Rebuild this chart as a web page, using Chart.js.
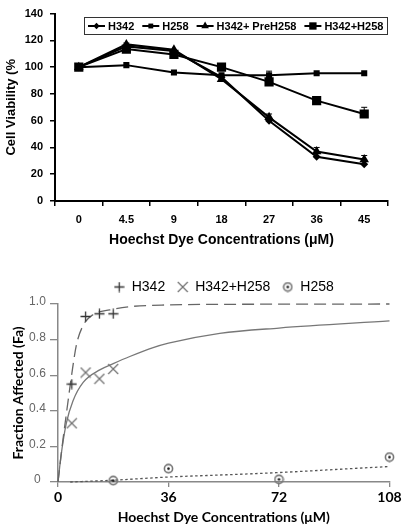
<!DOCTYPE html>
<html>
<head>
<meta charset="utf-8">
<script src="https://cdn.jsdelivr.net/npm/chart.js"></script>
<style>
  body { margin: 0; background: #fff; }
  canvas { display: block; }
</style>
</head>
<body>
<canvas id="viability" width="404" height="250"></canvas>
<canvas id="fraction" width="404" height="277"></canvas>
<script>
// ---- top chart: cell viability ----
const doseLabels = ['0', '4.5', '9', '18', '27', '36', '45']
const viaH342 = [100, 115.5, 112, 92.5, 60, 33, 27.5]
const viaH258 = [100, 101.5, 96, 94, 94, 95.5, 95.5]
const viaPreH258 = [100, 117, 113, 91, 62.5, 37, 31]
const viaH342H258 = [100, 113.5, 109.5, 100, 89, 75, 65]
const errH342 = [0, 0, 0, 0, 0, 0, 0]
const errH258 = [0, 0, 0, 0, 3, 0, 0]
const errPreH258 = [0, 1, 0, 0, 2.5, 3, 3]
const errH342H258 = [0, 0, 0, 0, 0, 0, 5]

// ---- bottom chart: fraction affected ----
const faDoseH342 = [4.5, 9, 13.5, 18]
const faH342 = [0.55, 0.93, 0.945, 0.945]
const faDoseCombo = [4.5, 9, 13.5, 18]
const faCombo = [0.33, 0.615, 0.58, 0.635]
const faDoseH258 = [18, 36, 72, 108]
const faH258 = [0.008, 0.075, 0.015, 0.14]
// fitted curves
const fitXH342 = [0, 1.6, 3.3, 4.4, 6, 8.2, 11.4, 16.9, 23.4, 36, 54, 72, 108]
const fitYH342 = [0, 0.235, 0.457, 0.596, 0.77, 0.88, 0.94, 0.967, 0.985, 0.995, 0.998, 0.999, 1.0]
const fitXCombo = [0, 1, 2.7, 4.9, 8.2, 13.6, 18, 23.4, 31, 36, 52.7, 72, 108]
const fitYCombo = [0, 0.15, 0.33, 0.457, 0.56, 0.63, 0.665, 0.705, 0.755, 0.78, 0.835, 0.865, 0.905]
const fitXH258 = [4, 18, 36, 54, 72, 90, 108]
const fitYH258 = [0, 0.01, 0.028, 0.04, 0.053, 0.07, 0.087]
const faTicks = [0, 36, 72, 108]

const ARIAL = '"Liberation Sans", Arial, sans-serif'
const LATO = 'Lato, "Open Sans", sans-serif'
Chart.defaults.font.family = ARIAL
Chart.defaults.color = '#000'

function legendMarker(ctx, style, x, y, r) {
    ctx.beginPath()
    if (style === 'rectRot') {
        ctx.moveTo(x - r, y); ctx.lineTo(x, y - r); ctx.lineTo(x + r, y); ctx.lineTo(x, y + r)
    } else if (style === 'triangle') {
        ctx.moveTo(x, y - r)
        ctx.lineTo(x + r * 0.866, y + r / 2)
        ctx.lineTo(x - r * 0.866, y + r / 2)
    } else {
        const s = r * Math.SQRT1_2
        ctx.rect(x - s, y - s, 2 * s, 2 * s)
    }
    ctx.closePath()
    ctx.fill()
}

const boxLegend = {
    id: 'boxLegend',
    afterDraw(chart) {
        const {ctx, chartArea} = chart
        ctx.save()
        ctx.font = 'bold 11px ' + ARIAL
        const sym = 17, gap = 3, sep = 8, pad = 4, boxH = 17
        const items = chart.data.datasets.map(ds => ({ds, w: ctx.measureText(ds.label).width}))
        const total = items.reduce((s, it) => s + sym + gap + it.w, 0) + sep * (items.length - 1) + pad * 2
        const left = Math.round(chartArea.right - 1 - total)
        const top = Math.round(chartArea.top + 3)
        ctx.strokeStyle = '#333'
        ctx.lineWidth = 1
        ctx.strokeRect(left + 0.5, top + 0.5, Math.round(total), boxH)
        const cy = top + boxH / 2 + 0.5
        let x = left + pad
        items.forEach(({ds, w}) => {
            ctx.strokeStyle = '#000'
            ctx.lineWidth = 2
            ctx.beginPath(); ctx.moveTo(x, cy); ctx.lineTo(x + sym, cy); ctx.stroke()
            ctx.fillStyle = '#000'
            legendMarker(ctx, ds.pointStyle, x + sym / 2, cy, ds.pointRadius * 0.8)
            ctx.textBaseline = 'middle'
            ctx.fillText(ds.label, x + sym + gap, cy + 0.5)
            x += sym + gap + w + sep
        })
        ctx.restore()
    }
}

const errorBars = {
    id: 'errorBars',
    afterDatasetsDraw(chart) {
        const {ctx} = chart
        const y = chart.scales.y
        ctx.save()
        ctx.strokeStyle = '#000'
        ctx.lineWidth = 1
        chart.data.datasets.forEach((ds, i) => {
            const pts = chart.getDatasetMeta(i).data
            ds.errors.forEach((e, j) => {
                if (!e) return
                const px = pts[j].x
                const top = y.getPixelForValue(ds.data[j] + e)
                ctx.beginPath()
                ctx.moveTo(px, pts[j].y); ctx.lineTo(px, top)
                ctx.moveTo(px - 3, top); ctx.lineTo(px + 3, top)
                ctx.stroke()
            })
        })
        ctx.restore()
    }
}

function lineSet(label, data, errors, style, radius) {
    return {
        label, data, errors,
        borderColor: '#000', backgroundColor: '#000', borderWidth: 2,
        pointStyle: style, pointRadius: radius, pointBorderWidth: 0,
        pointBackgroundColor: '#000', tension: 0
    }
}

new Chart(document.getElementById('viability'), {
    type: 'line',
    data: {
        labels: doseLabels,
        datasets: [
            lineSet('H342', viaH342, errH342, 'rectRot', 4),
            lineSet('H258', viaH258, errH258, 'rect', 4.3),
            lineSet('H342+ PreH258', viaPreH258, errPreH258, 'triangle', 5.5),
            lineSet('H342+H258', viaH342H258, errH342H258, 'rect', 6.5)
        ]
    },
    options: {
        responsive: false,
        animation: false,
        layout: {padding: {top: 7, right: 16, left: 0, bottom: 0}},
        plugins: {legend: {display: false}, tooltip: {enabled: false}},
        scales: {
            x: {
                offset: true,
                grid: {offset: true, drawOnChartArea: false, color: '#000', lineWidth: 1.5, tickLength: 5},
                border: {color: '#000', width: 2},
                ticks: {font: {size: 11, weight: 'bold'}, padding: 7},
                title: {display: true, text: 'Hoechst Dye Concentrations (μM)', font: {size: 14, weight: 'bold'}, padding: {top: 0, bottom: 1.5}},
                afterFit: s => { s.height = 49 }
            },
            y: {
                min: 0, max: 140,
                grid: {drawOnChartArea: false, color: '#000', lineWidth: 1.5, tickLength: 5},
                border: {color: '#000', width: 2},
                ticks: {stepSize: 20, font: {size: 11, weight: 'bold'}, padding: 7},
                title: {display: true, text: 'Cell Viability (%', font: {size: 13, weight: 'bold'}, padding: {top: 4, bottom: 0}},
                afterFit: s => { s.width = 55 }
            }
        }
    },
    plugins: [errorBars, boxLegend]
})

function markerImage(kind) {
    const c = document.createElement('canvas')
    const g = c.getContext('2d')
    if (kind === 'plus') {
        c.width = 11; c.height = 11
        g.strokeStyle = '#333'; g.lineWidth = 1.3
        g.beginPath(); g.moveTo(0.5, 5.5); g.lineTo(10.5, 5.5); g.moveTo(5.5, 0.5); g.lineTo(5.5, 10.5); g.stroke()
    } else if (kind === 'cross') {
        c.width = 12; c.height = 12
        g.strokeStyle = '#707070'; g.lineWidth = 1.2
        g.beginPath(); g.moveTo(1, 1); g.lineTo(11, 11); g.moveTo(11, 1); g.lineTo(1, 11); g.stroke()
    } else {
        c.width = 11; c.height = 11
        g.strokeStyle = '#777'; g.lineWidth = 1.6
        g.beginPath(); g.arc(5.5, 5.5, 4.1, 0, Math.PI * 2); g.stroke()
        g.fillStyle = '#111'
        g.beginPath(); g.arc(5.5, 5.5, 1.3, 0, Math.PI * 2); g.fill()
    }
    return c
}

const toXY = (xs, ys) => xs.map((x, i) => ({x, y: ys[i]}))

function pointSet(label, xs, ys, kind) {
    return {label, data: toXY(xs, ys), pointStyle: markerImage(kind), pointRadius: 5, clip: false}
}

function curveSet(label, xs, ys, color, dash) {
    return {
        label, data: toXY(xs, ys), showLine: true, pointRadius: 0,
        borderColor: color, borderWidth: 1.3, borderDash: dash,
        cubicInterpolationMode: 'monotone', clip: false
    }
}

new Chart(document.getElementById('fraction'), {
    type: 'scatter',
    data: {
        datasets: [
            pointSet('H342', faDoseH342, faH342, 'plus'),
            pointSet('H342+H258', faDoseCombo, faCombo, 'cross'),
            pointSet('H258', faDoseH258, faH258, 'ring'),
            curveSet('H342 fit', fitXH342, fitYH342, '#666', [12, 6]),
            curveSet('H342+H258 fit', fitXCombo, fitYCombo, '#777', []),
            curveSet('H258 fit', fitXH258, fitYH258, '#555', [2.5, 2.5])
        ]
    },
    options: {
        responsive: false,
        animation: false,
        layout: {padding: {top: 18, right: 14.5, left: 0, bottom: 0}},
        plugins: {
            tooltip: {enabled: false},
            legend: {
                position: 'top',
                fullSize: false,
                labels: {
                    filter: item => item.datasetIndex < 3,
                    usePointStyle: true, pointStyleWidth: 11, padding: 12,
                    font: {size: 14, family: ARIAL}, color: '#000'
                }
            }
        },
        scales: {
            x: {
                type: 'linear', min: 0, max: 108,
                afterBuildTicks: s => { s.ticks = faTicks.map(v => ({value: v})) },
                grid: {drawOnChartArea: false, color: '#888', lineWidth: 1.3, tickLength: 5},
                border: {color: '#888', width: 1.5},
                ticks: {font: {family: LATO, size: 14, weight: 'bold'}, padding: 2, color: '#000'},
                title: {display: true, text: 'Hoechst Dye Concentrations (μM)', font: {family: LATO, size: 14, weight: 'bold'}, padding: {top: 0, bottom: 1.6}},
                afterFit: s => { s.height = 45 }
            },
            y: {
                min: 0, max: 1,
                grid: {drawOnChartArea: false, color: '#888', lineWidth: 1.3, tickLength: 8},
                border: {color: '#888', width: 1.5},
                ticks: {
                    stepSize: 0.2, color: '#666', font: {size: 12}, padding: 4.2,
                    crossAlign: 'center', labelOffset: -2,
                    callback: v => v === 0 ? '0' : v.toFixed(1)
                },
                title: {display: true, text: 'Fraction Affected (Fa)', font: {family: LATO, size: 14, weight: 'bold'}, padding: {top: 9.6, bottom: 0}},
                afterFit: s => { s.width = 58 }
            }
        }
    }
})
</script>
</body>
</html>
